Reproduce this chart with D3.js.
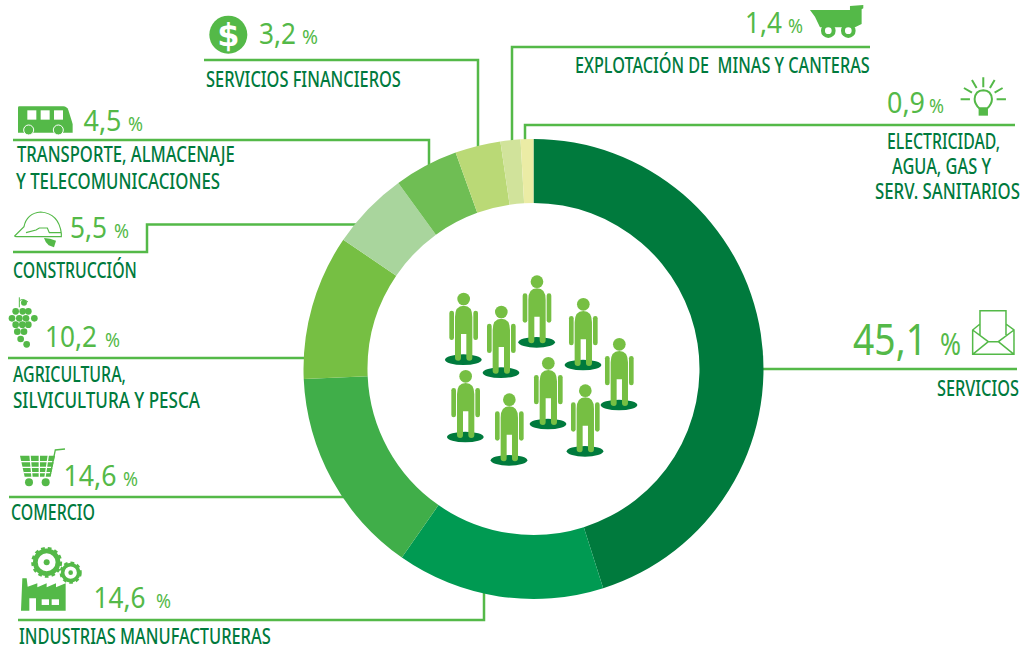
<!DOCTYPE html>
<meta charset="utf-8">
<style>
html, body { margin: 0; background: #fff; }
svg { display: block; }
.cat { font-family: "Noto Sans", sans-serif; font-size: 21px; font-weight: 500; fill: #007a3d; white-space: pre; }
.val { font-family: "Noto Sans", sans-serif; fill: #54b948; font-weight: 400; }
.leader { fill: none; stroke: #54b948; stroke-width: 2.5; }
</style>
<svg width="1027" height="650"></svg>
<script src="https://d3js.org/d3.v7.min.js"></script>
<script>

// data, clockwise from 12 o'clock
var categories = ["Servicios", "Industrias manufactureras", "Comercio",
                  "Agricultura, silvicultura y pesca", "Construcción",
                  "Transporte, almacenaje y telecomunicaciones",
                  "Servicios financieros", "Explotación de minas y canteras",
                  "Electricidad, agua, gas y serv. sanitarios"];
var values = [45.1, 14.6, 14.6, 10.2, 5.5, 4.5, 3.2, 1.4, 0.9];
var colors = ["#007a3d", "#009a52", "#40ae49", "#76bf43", "#a9d59d",
              "#6fbe54", "#bad976", "#d1e39b", "#ebeca5"];

// printed category text, one list per slice
var labelText = [
    ["SERVICIOS"],
    ["INDUSTRIAS MANUFACTURERAS"],
    ["COMERCIO"],
    ["AGRICULTURA,", "SILVICULTURA Y PESCA"],
    ["CONSTRUCCIÓN"],
    ["TRANSPORTE, ALMACENAJE", "Y TELECOMUNICACIONES"],
    ["SERVICIOS FINANCIEROS"],
    ["EXPLOTACIÓN DE  MINAS Y CANTERAS"],
    ["ELECTRICIDAD,", "AGUA, GAS Y", "SERV. SANITARIOS"]
];

// layout: [x, baseline, width] per text line
var labelPos = [
    [[937, 396, 82]],
    [[19, 643.5, 252]],
    [[11, 520, 84]],
    [[13, 382, 113], [13, 408, 187]],
    [[13, 278, 124]],
    [[17, 162, 218], [16, 189, 204]],
    [[206, 87, 195]],
    [[575, 73, 295]],
    [[887, 149, 113], [892, 174, 99], [875, 199, 145]]
];
// layout: number x, baseline, number width, % x, % width, size
var valuePos = [
    [853, 355, 74, 940, 21, 44],
    [93.5, 608, 52, 156, 15, 29],
    [63.5, 486, 53, 123, 15, 29],
    [45, 347, 52, 105, 15, 29],
    [70, 238, 37, 114, 15, 29],
    [83.5, 131, 38, 128, 15, 29],
    [259, 44, 37, 302, 16, 29],
    [745, 33, 37, 788, 15, 29],
    [887, 113, 38, 929, 15, 29]
];
var leaders = [
    [[740, 369], [1017, 369]],
    [[18, 620], [484, 620], [484, 580]],
    [[9, 497], [360, 497]],
    [[8, 358], [320, 358]],
    [[13, 252], [147, 252], [147, 224.5], [370, 224.5]],
    [[13, 140], [429, 140], [429, 175]],
    [[204, 60], [478, 60], [478, 150]],
    [[870, 47], [512, 47], [512, 150]],
    [[1015, 125], [525, 125], [525, 150]]
];
var people = [[100, 284], [213, 323], [320, 232], [459, 300], [567, 420],
              [106, 516], [237, 586], [354, 477], [465, 559]];
var grapes = [[47, 64], [68, 64], [85, 64], [36, 85], [58, 85], [78, 85], [103, 85],
              [47, 104], [67, 104], [85, 104], [52, 125], [72, 125], [62, 147], [80, 163]];

var svg = d3.select("svg");
var green = "#54b948";
var cx = 533.5, cy = 369;

var line = d3.line();
svg.append("g").selectAll("path")
    .data(leaders)
    .enter().append("path")
    .attr("class", "leader")
    .attr("d", function(d) { return line(d); });

var pie = d3.pie().sort(null)(values);
var arc = d3.arc().innerRadius(166).outerRadius(230);
svg.append("g")
    .attr("transform", "translate(" + cx + "," + cy + ")")
    .selectAll("path")
    .data(pie)
    .enter().append("path")
    .attr("d", arc)
    .attr("fill", function(d, i) { return colors[i]; })
    .append("title")
    .text(function(d, i) { return categories[i]; });

// text squeezed sideways to the printed width, the original face is condensed
function squeezed(cls, t, x, y, w, size) {
    var el = svg.append("text").attr("class", cls).text(t);
    if (size) el.style("font-size", size + "px");
    var sx = w / el.node().getComputedTextLength();
    el.attr("transform", "translate(" + x + "," + y + ") scale(" + sx + ",1)");
    return el;
}

// category labels
labelText.forEach(function(lines, i) {
    lines.forEach(function(t, j) {
        var p = labelPos[i][j];
        squeezed("cat", t, p[0], p[1], p[2]);
    });
});

// value labels
values.forEach(function(v, i) {
    var p = valuePos[i];
    squeezed("val", v.toFixed(1).replace(".", ","), p[0], p[1], p[2], p[5]);
    squeezed("val", "%", p[3], p[1], p[4], p[5] * 0.7);
});

// people in the middle, drawn in the 3x units of the crop
var crowd = svg.append("g").attr("transform", "translate(430,265) scale(0.3333)");
var person = crowd.selectAll("g")
    .data(people)
    .enter().append("g")
    .attr("transform", function(d) { return "translate(" + d[0] + "," + d[1] + ")"; });
person.append("ellipse").attr("rx", 55).attr("ry", 16).attr("fill", "#007a3d");
var pc = "#76bf43";
person.append("circle").attr("cx", 1).attr("cy", -182).attr("r", 19).attr("fill", pc);
person.append("path").attr("fill", pc)
    .attr("d", "M-25,-128 Q-25,-162 1,-162 Q27,-162 27,-128 V-77 H27 V-6 Q27,3 18,3 Q9,3 9,-6 V-77 H-7 V-6 Q-7,3 -15,3 Q-25,3 -25,-6 Z");
person.append("rect").attr("x", -42).attr("y", -147).attr("width", 14).attr("height", 88).attr("rx", 7).attr("fill", pc);
person.append("rect").attr("x", 30).attr("y", -147).attr("width", 14).attr("height", 88).attr("rx", 7).attr("fill", pc);

// icons, also in 3x crop units
function icon(x, y) {
    return svg.append("g").attr("transform", "translate(" + x + "," + y + ") scale(0.3333)");
}

// dollar
var ic = icon(0, 0);
ic.append("circle").attr("cx", 685).attr("cy", 104).attr("r", 57).attr("fill", green);
ic.append("text").attr("x", 685).attr("y", 138).attr("text-anchor", "middle")
    .attr("font-family", "DejaVu Sans").attr("font-weight", "bold").attr("font-size", 96)
    .attr("fill", "#fff").text("$");

// bus
ic = icon(0, 0);
ic.append("path").attr("fill", green)
    .attr("d", "M58,319 H190 Q200,319 205,330 L218,372 V398 H54 V323 Q54,319 58,319 Z");
[[82, 331], [122, 331], [162, 331]].forEach(function(w) {
    ic.append("rect").attr("x", w[0]).attr("y", w[1]).attr("width", 27).attr("height", 28).attr("fill", "#fff");
});
[86, 175].forEach(function(x) {
    ic.append("circle").attr("cx", x).attr("cy", 390).attr("r", 15).attr("fill", green).attr("stroke", "#fff").attr("stroke-width", 3);
});

// hard hat
ic = icon(0, 0);
ic.append("path").attr("fill", "none").attr("stroke", green).attr("stroke-width", 3.5)
    .attr("d", "M44,708 L72,680 Q80,640 122,636 Q176,640 184,700 V710 H50 Q44,710 44,708 Z M78,698 L108,690 L118,684 H142 L148,698 H184");
ic.append("path").attr("fill", green)
    .attr("d", "M132,714 L150,716 L168,722 L162,742 L146,736 Q136,728 132,714 Z");

// grapes
ic = icon(0, 290);
ic.selectAll("circle.g").data(grapes).enter().append("circle")
    .attr("cx", function(d) { return d[0]; }).attr("cy", function(d) { return d[1]; })
    .attr("r", 10).attr("fill", green);
ic.append("circle").attr("cx", 72).attr("cy", 38).attr("r", 9).attr("fill", green);
ic.append("path").attr("fill", "none").attr("stroke", green).attr("stroke-width", 3)
    .attr("d", "M58,22 V52 M58,34 Q66,22 84,36");

// cart
ic = icon(0, 290);
ic.append("path").attr("fill", green).attr("d", "M60,497 H165 L152,560 H74 Z");
ic.append("path").attr("fill", "none").attr("stroke", "#fff").attr("stroke-width", 4)
    .attr("d", "M62,515 H163 M66,532 H158 M70,548 H155 M90,495 L96,562 M118,495 V562 M145,495 L135,562");
ic.append("path").attr("fill", "none").attr("stroke", green).attr("stroke-width", 4)
    .attr("d", "M150,558 L166,480 L195,477");
[87, 137].forEach(function(x) {
    ic.append("circle").attr("cx", x).attr("cy", 577).attr("r", 12).attr("fill", green);
});

// factory and gears
ic = icon(0, 290);
ic.append("path").attr("fill", green)
    .attr("d", "M63,962 L67,865 H80 L83,890 L112,880 V892 L140,880 V892 L168,880 V892 L197,880 V962 H108 V925 H88 V962 Z");
ic.append("rect").attr("x", 125).attr("y", 928).attr("width", 22).attr("height", 17).attr("fill", "#fff");
ic.append("rect").attr("x", 155).attr("y", 928).attr("width", 22).attr("height", 17).attr("fill", "#fff");
[[140, 817, 34, 8, 9], [212, 848, 24, 6, 7]].forEach(function(g) {
    ic.append("circle").attr("cx", g[0]).attr("cy", g[1]).attr("r", g[2])
        .attr("fill", "none").attr("stroke", green).attr("stroke-width", g[3] * 1.8);
    ic.append("circle").attr("cx", g[0]).attr("cy", g[1]).attr("r", g[2] + g[3])
        .attr("fill", "none").attr("stroke", green).attr("stroke-width", g[3] * 1.1)
        .attr("stroke-dasharray", "11 9");
    ic.append("circle").attr("cx", g[0]).attr("cy", g[1]).attr("r", g[4]).attr("fill", green);
});

// dump truck
ic = icon(500, 0);
ic.append("path").attr("fill", green)
    .attr("d", "M930,30 L1050,30 V18 L1090,15 V25 L1085,28 V72 L1065,82 H960 L945,50 Z");
[985, 1045].forEach(function(x) {
    ic.append("circle").attr("cx", x).attr("cy", 92).attr("r", 16).attr("fill", "#fff").attr("stroke", green).attr("stroke-width", 12);
});

// bulb
ic = icon(500, 0);
ic.append("path").attr("fill", "none").attr("stroke", green).attr("stroke-width", 6)
    .attr("d", "M1438,325 Q1424,312 1424,297 Q1426,272 1450,271 Q1474,272 1476,297 Q1476,312 1462,325 Z");
ic.append("rect").attr("x", 1436).attr("y", 325).attr("width", 28).attr("height", 22).attr("fill", green);
ic.append("path").attr("fill", "none").attr("stroke", green).attr("stroke-width", 6)
    .attr("d", "M1450,232 V262 M1416,240 L1430,264 M1484,240 L1470,264 M1392,264 L1416,278 M1508,264 L1484,278 M1382,298 H1410 M1490,298 H1518");

// envelope
ic = icon(840, 300);
ic.append("path").attr("fill", "none").attr("stroke", green).attr("stroke-width", 4.5)
    .attr("d", "M420,105 V32 H498 V105 M420,72 L398,90 V163 H522 V90 L498,72 M398,90 L445,125 H475 L522,90 M398,163 L445,125 M522,163 L475,125");

</script>
